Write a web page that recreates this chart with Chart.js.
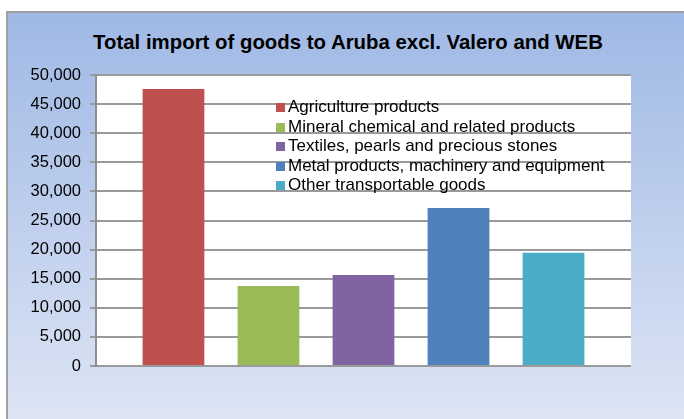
<html><head>
<meta charset="UTF-8">
<title>Total import of goods to Aruba</title>
<script src="https://cdn.jsdelivr.net/npm/chart.js"></script>
<style>
* { margin: 0; padding: 0; box-sizing: border-box; }

body {
  width: 684px;
  height: 419px;
  overflow: hidden;
  background: white;
  font-family: 'Liberation Sans', Arial, sans-serif;
  position: relative;
}

.frame {
  position: absolute;
  left: 6px;
  top: 11px;
  width: 700px;
  height: 430px;
  border: 2px solid #a0a0a0;
  background: linear-gradient(#9fb8e5, #e0e7f5);
}

.title {
  position: absolute;
  left: 0;
  width: 696px;
  top: 31px;
  text-align: center;
  font-weight: bold;
  font-size: 20.4px;
  color: #000;
}

.legend {
  position: absolute;
  left: 276px;
  top: 97px;
  list-style: none;
  font-size: 17px;
  line-height: 19.5px;
  color: #000;
  z-index: 2;
}

.legend li span {
  display: inline-block;
  width: 9px;
  height: 9px;
  margin-right: 3px;
}

#chart {
  position: absolute;
  left: 0;
  top: 0;
  z-index: 1;
}
</style>
</head>
<body>
<div class="frame"></div>
<div class="title">Total import of goods to Aruba excl. Valero and WEB</div>
<canvas id="chart" width="684" height="419"></canvas>
<ul class="legend" id="legend"></ul>

<script>
// import value by product group
const categories = [
  'Agriculture products',
  'Mineral chemical and related products',
  'Textiles, pearls and precious stones',
  'Metal products, machinery and equipment',
  'Other transportable goods'
];
const imports = [47600, 13750, 15650, 27150, 19450];
const colors = ['#c0504d', '#9bbb59', '#8064a2', '#4f81bd', '#4bacc6'];
const yMax = 50000;
const yStep = 5000;

// white plot area, drawn under the grid
const plotBackground = {
  id: 'plotBackground',
  beforeDraw(chart) {
    const a = chart.chartArea;
    chart.ctx.save();
    chart.ctx.fillStyle = '#ffffff';
    chart.ctx.fillRect(a.left, a.top, a.right - a.left, a.bottom - a.top);
    chart.ctx.restore();
  }
};

const datasets = categories.map((name, i) => ({
  label: name,
  data: [imports[i]],
  backgroundColor: colors[i],
  categoryPercentage: 0.888,
  barPercentage: 0.65
}));

new Chart(document.getElementById('chart'), {
  type: 'bar',
  data: { labels: [''], datasets: datasets },
  plugins: [plotBackground],
  options: {
    responsive: false,
    animation: false,
    layout: { padding: { left: 0, top: 75, right: 53, bottom: 53 } },
    plugins: {
      legend: { display: false },
      title: { display: false },
      tooltip: { enabled: false }
    },
    scales: {
      x: { display: false },
      y: {
        min: 0,
        max: yMax,
        afterFit: s => { s.width = 96; },
        ticks: {
          stepSize: yStep,
          padding: 9,
          color: '#000',
          font: { family: "'Liberation Sans', Arial", size: 16.5 },
          callback: v => v.toLocaleString('en-US')
        },
        grid: { color: '#9a9a9a', lineWidth: 2, tickLength: 6 },
        border: { display: true, color: '#8e8e8e', width: 2 }
      }
    }
  }
});

// legend sits inside the plot, like in the original
const legend = document.getElementById('legend');
categories.forEach((name, i) => {
  const li = document.createElement('li');
  li.innerHTML = '<span style="background:' + colors[i] + '"></span>' + name;
  legend.appendChild(li);
});
</script>
</body></html>
